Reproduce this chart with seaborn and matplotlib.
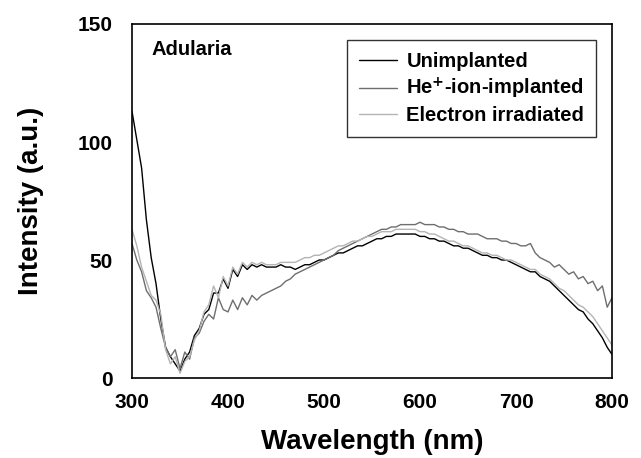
import numpy as np
import pandas as pd
import seaborn as sns
import matplotlib
matplotlib.use("Agg")
import matplotlib.pyplot as plt
from matplotlib.ticker import MultipleLocator

wavelength = list(range(300, 805, 5))

unimplanted = [113, 101, 89, 67, 51, 40, 25, 13, 9, 6,
               3, 8, 11, 18, 21, 27, 29, 36, 36, 42,
               38, 46, 43, 48, 46, 48, 47, 48, 47, 47,
               47, 48, 47, 47, 46, 47, 48, 48, 49, 50,
               50, 51, 52, 53, 53, 54, 55, 56, 56, 57,
               58, 59, 59, 60, 60, 61, 61, 61, 61, 61,
               60, 60, 59, 59, 58, 58, 57, 56, 56, 55,
               55, 54, 53, 52, 52, 51, 51, 50, 50, 49,
               48, 47, 46, 45, 45, 43, 42, 41, 39, 37,
               35, 33, 31, 29, 28, 25, 23, 20, 17, 13,
               10]

he_implanted = [57, 50, 45, 37, 34, 30, 21, 13, 9, 12,
                4, 11, 8, 17, 19, 24, 27, 25, 34, 29,
                28, 33, 29, 34, 31, 35, 33, 35, 36, 37,
                38, 39, 41, 42, 44, 45, 46, 47, 48, 49,
                50, 51, 52, 54, 55, 56, 57, 58, 59, 60,
                61, 62, 63, 63, 64, 64, 65, 65, 65, 65,
                66, 65, 65, 65, 64, 64, 63, 63, 62, 62,
                61, 61, 61, 60, 59, 59, 59, 58, 58, 57,
                57, 56, 56, 57, 53, 51, 50, 49, 47, 48,
                46, 44, 45, 42, 43, 40, 41, 37, 39, 30,
                34]

electron = [63, 56, 47, 41, 35, 33, 27, 12, 6, 9,
            2, 7, 9, 16, 20, 28, 31, 39, 34, 43,
            39, 47, 44, 49, 47, 49, 48, 49, 48, 48,
            48, 49, 49, 49, 49, 50, 51, 51, 52, 52,
            53, 54, 55, 56, 56, 57, 58, 58, 59, 60,
            60, 61, 62, 62, 62, 63, 63, 63, 63, 63,
            62, 62, 61, 61, 60, 59, 58, 58, 57, 56,
            56, 55, 54, 53, 53, 52, 52, 51, 50, 50,
            49, 48, 47, 46, 46, 44, 43, 42, 40, 38,
            37, 35, 33, 31, 30, 28, 26, 23, 20, 17,
            14]

series_names = ["Unimplanted", "He$^{+}$-ion-implanted", "Electron irradiated"]
series_colors = ["#000000", "#6e6e6e", "#b4b4b4"]

df = pd.concat([
    pd.DataFrame({"Wavelength": wavelength, "Intensity": vals, "Sample": name})
    for name, vals in zip(series_names, [unimplanted, he_implanted, electron])
], ignore_index=True)

sns.set_style("white")
plt.rcParams["font.family"] = ["Liberation Sans", "DejaVu Sans"]
plt.rcParams["font.weight"] = "bold"
plt.rcParams["mathtext.default"] = "bf"
for key in ["text.color", "axes.labelcolor", "xtick.color", "ytick.color",
            "xtick.labelcolor", "ytick.labelcolor", "legend.labelcolor"]:
    plt.rcParams[key] = "black"

fig = plt.figure(figsize=(6.41, 4.58), dpi=100)
ax = fig.add_axes([132 / 641, 1 - 378 / 458, 480 / 641, 354 / 458])

sns.lineplot(data=df, x="Wavelength", y="Intensity", hue="Sample",
             palette=dict(zip(series_names, series_colors)),
             hue_order=series_names, linewidth=1.0, ax=ax)

ax.set_xlim(300, 800)
ax.set_ylim(0, 150)
ax.xaxis.set_major_locator(MultipleLocator(100))
ax.xaxis.set_minor_locator(MultipleLocator(50))
ax.yaxis.set_major_locator(MultipleLocator(50))
ax.yaxis.set_minor_locator(MultipleLocator(25))
ax.tick_params(which="major", direction="in", length=7, width=1, color="black",
               labelcolor="black", labelsize=15, pad=11)
ax.tick_params(which="minor", direction="in", length=4, width=1, color="black")
ax.tick_params(axis="y", which="major", pad=14)
for lbl in ax.get_xticklabels() + ax.get_yticklabels():
    lbl.set_fontweight("bold")
for s in ax.spines.values():
    s.set_color("black")
    s.set_linewidth(1.2)

ax.set_xlabel("Wavelength (nm)", fontsize=20, fontweight="bold", labelpad=12,
              color="black")
ax.set_ylabel("Intensity (a.u.)", fontsize=20, fontweight="bold", labelpad=24,
              color="black")

ax.text(0.04, 0.955, "Adularia", transform=ax.transAxes, fontsize=14.5,
        fontweight="bold", va="top", ha="left", color="black")

leg = ax.legend(loc="upper left", bbox_to_anchor=(0.448, 0.955), frameon=True,
                fancybox=False, edgecolor="black", fontsize=14.5,
                handlelength=1.9, handletextpad=0.45, labelspacing=0.25,
                borderpad=0.6, borderaxespad=0, title=None)
leg.get_frame().set_linewidth(1.0)
for t in leg.get_texts():
    t.set_fontweight("bold")
    t.set_color("black")

fig.savefig("out.png", dpi=100)
